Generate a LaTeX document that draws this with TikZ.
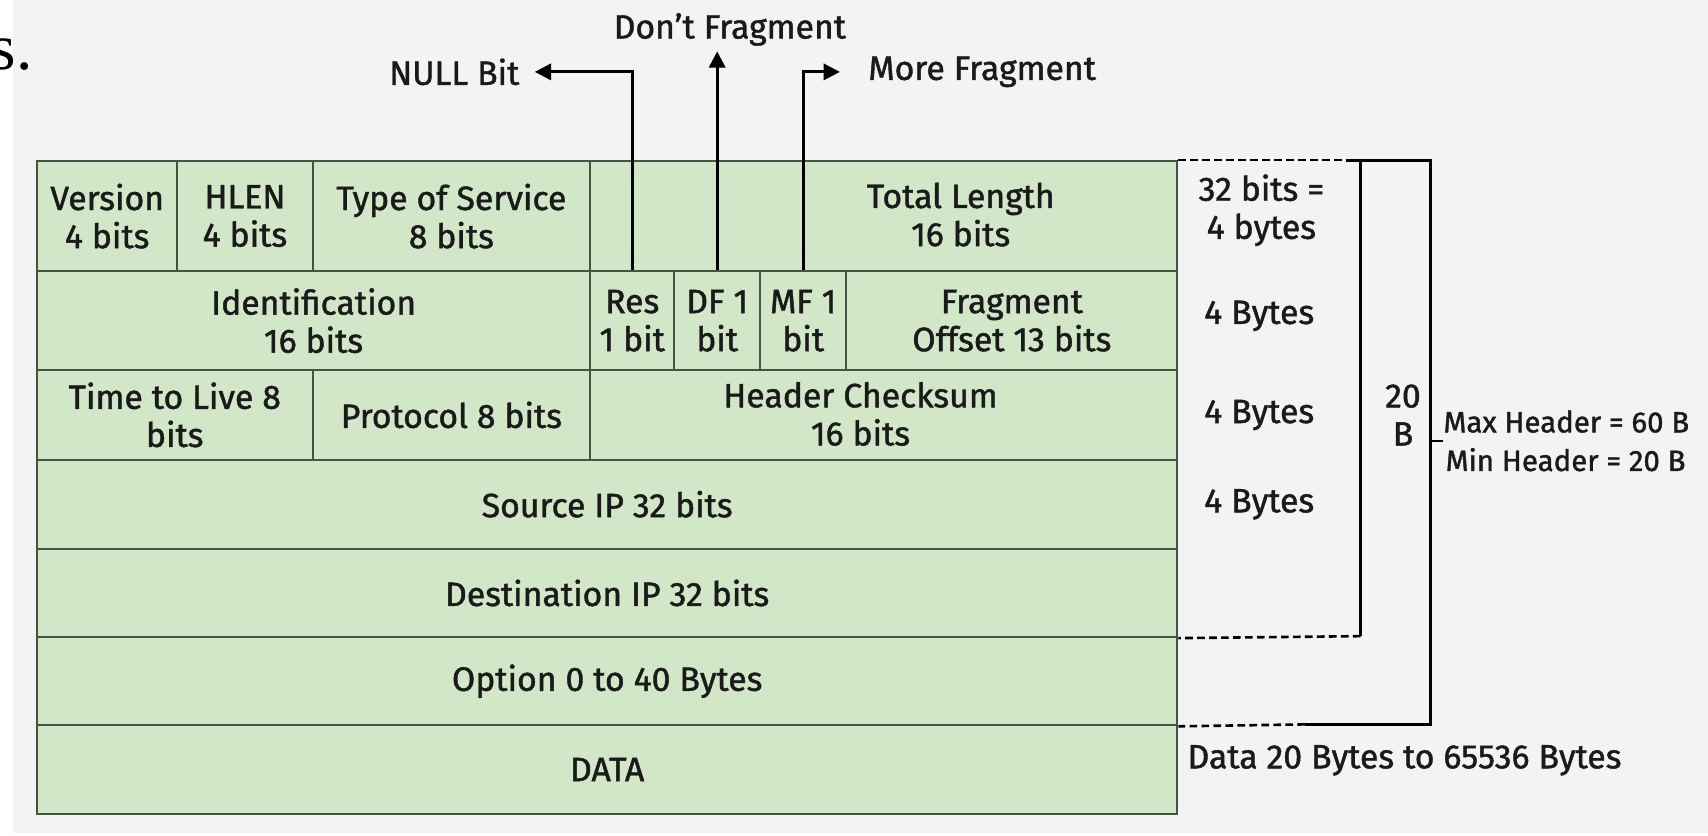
\documentclass[tikz,border=0pt]{standalone}
\usepackage{fontspec}
\setmainfont{Fira Sans}[UprightFeatures={FakeBold=1.3}]
\newfontfamily\serifx{Liberation Serif}
\usetikzlibrary{arrows.meta}
\definecolor{pagebg}{HTML}{F3F3F3}
\definecolor{cellfill}{HTML}{D2E6C8}
\definecolor{cellline}{HTML}{3F5644}
\definecolor{txt}{HTML}{1A1A1A}
\begin{document}
\begin{tikzpicture}[x=1pt,y=-1pt,
  lbl/.style={font=\fontsize{31}{35}\selectfont, text=txt, align=center, inner sep=0pt},
  smalllbl/.style={font=\fontsize{27}{32}\selectfont, text=txt, inner sep=0pt, anchor=west},
  cellbox/.style={rectangle, draw=cellline, fill=cellfill, line width=1.8pt, anchor=north west,
    inner sep=0pt, align=center, font=\fontsize{31}{35}\selectfont, text=txt},
  conn/.style={draw=black, line width=2.6pt},
  tip/.style={-{Triangle[length=15pt,width=15pt]}},
  dashline/.style={draw=black, line width=2.4pt, dash pattern=on 7pt off 4pt},
  solidline/.style={draw=black, line width=2.6pt}
]
% canvas
\fill[white] (0,0) rectangle (1568,767);
\fill[pagebg] (12,0) rectangle (1568,765);
\useasboundingbox (0,0) rectangle (1568,767);

\node[font=\fontsize{60}{60}\serifx, text=black, inner sep=0pt, anchor=base east] (sdot) at (30,64) {s.};

% row 1
\node[cellbox, minimum width=129pt, minimum height=101pt] (ver) at (33,147) {Version\\4 bits};
\node[cellbox, minimum width=124pt, minimum height=101pt] (hlen) at (162,147) {HLEN\\4 bits};
\node[cellbox, minimum width=255pt, minimum height=101pt] (tos) at (286,147) {Type of Service\\8 bits};
\node[cellbox, minimum width=539pt, minimum height=101pt] (tot) at (541,147) {};
% row 2
\node[cellbox, minimum width=508pt, minimum height=91pt] (ident) at (33,248) {Identification\\16 bits};
\node[cellbox, minimum width=77pt, minimum height=91pt] (res) at (541,248) {Res\\1 bit};
\node[cellbox, minimum width=79pt, minimum height=91pt] (df) at (618,248) {DF 1\\bit};
\node[cellbox, minimum width=79pt, minimum height=91pt] (mf) at (697,248) {MF 1\\bit};
\node[cellbox, minimum width=304pt, minimum height=91pt] (fo) at (776,248) {Fragment\\Offset 13 bits};
% row 3
\node[cellbox, minimum width=253pt, minimum height=82pt] (ttl) at (33,339) {Time to Live 8\\bits};
\node[cellbox, minimum width=255pt, minimum height=82pt] (proto) at (286,339) {Protocol 8 bits};
\node[cellbox, minimum width=539pt, minimum height=82pt] (hcs) at (541,339) {};
% rows 4-7
\node[cellbox, minimum width=1047pt, minimum height=82pt] (src) at (33,421) {Source IP 32 bits};
\node[cellbox, minimum width=1047pt, minimum height=81pt] (dst) at (33,503) {Destination IP 32 bits};
\node[cellbox, minimum width=1047pt, minimum height=81pt] (opt) at (33,584) {Option 0 to 40 Bytes};
\node[cellbox, minimum width=1047pt, minimum height=81pt] (data) at (33,665) {DATA};

% off-centre texts
\node[lbl] (totl) at (882,197) {Total Length\\16 bits};
\node[lbl] (hcsl) at (790,380) {Header Checksum\\16 bits};

% flag labels
\node[lbl, anchor=east] (nullb) at (477,66) {NULL Bit};
\node[lbl] (dontf) at (670,27) {Don’t Fragment};
\node[lbl, anchor=west] (moref) at (797,66) {More Fragment};

\draw[conn, tip, shorten >=14pt] (res.north) |- (nullb.east);
\draw[conn, tip, shorten >=5pt] (df.north) -- (df.north |- dontf.south);
\draw[conn, tip, shorten >=26pt] (mf.north) |- (moref.west);

% right column labels
\node[lbl] (w1) at (1158,193) {32 bits =\\4 bytes};
\node[lbl] (w2) at (1156,290) {4 Bytes};
\node[lbl] (w3) at (1156,381) {4 Bytes};
\node[lbl] (w4) at (1156,463) {4 Bytes};
\node[lbl, anchor=west] (datal) at (1090,698) {Data 20 Bytes to 65536 Bytes};

% brackets
\coordinate (itop) at (1249,147);
\coordinate (otop) at (1313,147);
\coordinate (ibot) at (1249,584);
\coordinate (obot) at (1313,665);
\coordinate (osplit) at (1198,665);
\coordinate (tsplit) at (1236,147);
\draw[dashline] (tot.north east) -- (tsplit);
\draw[solidline] (tsplit) -- (otop) -- (obot) -- (osplit);
\draw[dashline] (osplit) -- (opt.south east);
\draw[solidline] (itop) -- (ibot);
\draw[dashline] (ibot) -- (dst.south east);

\node[lbl] (twentyb) at (1288,381) {20\\B};
\coordinate (tick) at (1313,405);
\node[smalllbl] (maxh) at (1325,387) {Max Header = 60 B};
\node[smalllbl] (minh) at (1327,422) {Min Header = 20 B};
\draw[line width=2pt] (tick) -- (maxh.west |- tick);
\end{tikzpicture}
\end{document}
